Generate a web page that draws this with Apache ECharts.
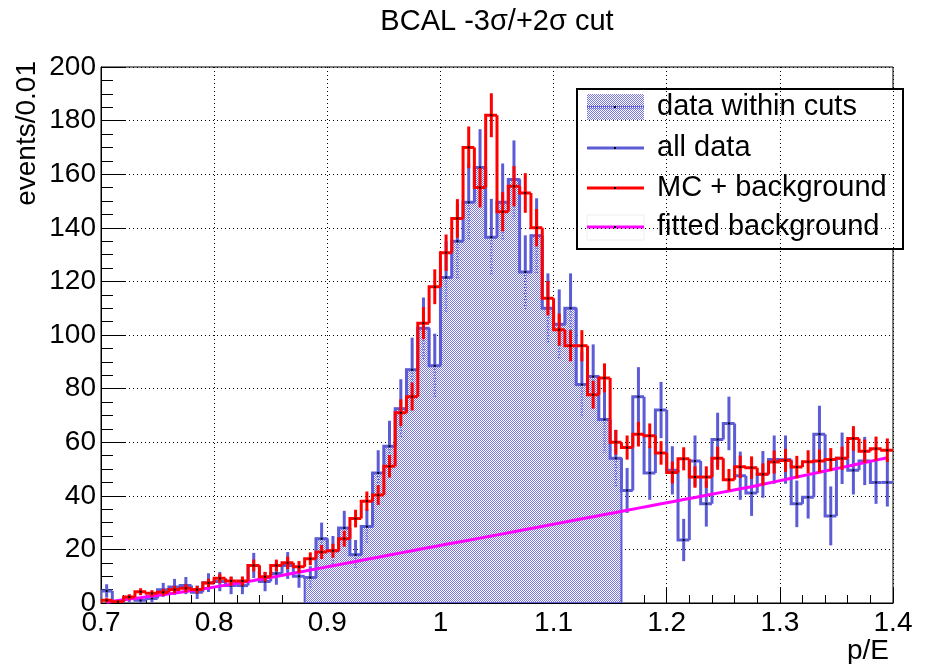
<!DOCTYPE html>
<html>
<head>
<meta charset="utf-8">
<script src="https://cdn.jsdelivr.net/npm/echarts@6/dist/echarts.min.js"></script>
<style>
  html, body { margin: 0; padding: 0; background: #fff; }
  #chart { width: 928px; height: 664px; }
</style>
</head>
<body>
<div id="chart"></div>
<script>
// Lower edges of the 0.01-wide p/E bins
const binLow = [
  0.70, 0.71, 0.72, 0.73, 0.74, 0.75, 0.76, 0.77, 0.78, 0.79,
  0.80, 0.81, 0.82, 0.83, 0.84, 0.85, 0.86, 0.87, 0.88, 0.89,
  0.90, 0.91, 0.92, 0.93, 0.94, 0.95, 0.96, 0.97, 0.98, 0.99,
  1.00, 1.01, 1.02, 1.03, 1.04, 1.05, 1.06, 1.07, 1.08, 1.09,
  1.10, 1.11, 1.12, 1.13, 1.14, 1.15, 1.16, 1.17, 1.18, 1.19,
  1.20, 1.21, 1.22, 1.23, 1.24, 1.25, 1.26, 1.27, 1.28, 1.29,
  1.30, 1.31, 1.32, 1.33, 1.34, 1.35, 1.36, 1.37, 1.38, 1.39
];
const BIN_WIDTH = 0.01;

// Data (all events)
const allData = [
  4.5, 0, 1.7, 1, 1.7, 4.9, 6, 6.5, 4, 7.6,
  8, 6.5, 6.5, 14, 8, 11, 14, 10, 9.5, 24,
  19.5, 28, 18, 28.5, 48.5, 58.5, 72.5, 87, 102.5, 88.5,
  121.5, 135, 149.5, 162.5, 136.5, 149.5, 158, 123.5, 137, 110,
  104, 110, 81.5, 84.5, 68.5, 54, 42, 77, 48.5, 72,
  49.5, 23.5, 53, 37, 61, 67, 47.5, 41, 48, 53.5,
  53.5, 37, 39.5, 63, 32.5, 54, 49.5, 53, 45, 45
];
const allDataErr = [
  2.5, 0, 1.5, 1.2, 1.5, 2.6, 3, 3.2, 2.5, 3.5,
  3.6, 3.2, 3.2, 4.7, 3.6, 4.2, 5, 4.3, 4.2, 6,
  5.5, 6.4, 5.5, 6.5, 8.5, 9.5, 11, 12, 11.5, 12,
  13.5, 14, 14.5, 14.3, 14.3, 14.5, 14.6, 13.7, 14, 13,
  13, 13, 12.4, 12, 12.5, 10.6, 8.4, 11, 10, 10.5,
  9, 7.9, 9.5, 8.5, 10, 10, 9, 8.5, 8.7, 9,
  9, 8.7, 8, 10.6, 11, 9.6, 9, 9, 8, 9
];

// Signal MC plus background
const mcBkg = [
  1, 0.5, 2.2, 4.2, 3.6, 4, 5, 5.5, 5, 7.5,
  9.2, 8.2, 8.2, 14, 9.8, 14, 15, 13.5, 16.5, 19,
  19.5, 24, 31.5, 38, 40.3, 51, 71, 77, 104.4, 118,
  130.7, 143.5, 170, 155, 182, 146, 155.5, 153, 140, 113.7,
  102, 96, 96, 77.7, 84, 60, 58, 63, 62.4, 56,
  48.7, 53.8, 47, 47, 54, 46, 50.8, 50.5, 48, 52.6,
  53.2, 50.7, 52.7, 53, 53.5, 54, 61.4, 56.6, 57.6, 57
];
const mcBkgErr = [
  0.8, 0.5, 1, 1.3, 1.2, 1.3, 1.4, 1.5, 1.4, 1.6,
  1.8, 1.7, 1.7, 2.2, 1.8, 2.2, 2.3, 2.2, 2.4, 2.6,
  2.6, 3, 3.3, 3.6, 3.7, 4.2, 5, 5.2, 6, 6.5,
  6.8, 7.2, 7.8, 7.4, 8.2, 7.3, 7.5, 7.4, 7, 6.4,
  6, 5.8, 5.8, 5.2, 5.4, 4.6, 4.5, 4.6, 4.6, 4.4,
  4.1, 4.3, 4, 4, 4.3, 4, 4.2, 4.2, 4.1, 4.3,
  4.3, 4.2, 4.3, 4.3, 4.3, 4.3, 4.6, 4.4, 4.5, 4.4
];

// Fitted background, per bin
const fittedBkg = [
  0.3, 0.9, 1.5, 2.0, 2.6, 3.1, 3.7, 4.3, 4.9, 5.6,
  6.3, 7.0, 7.7, 8.4, 9.2, 9.9, 10.7, 11.5, 12.3, 13.1,
  13.9, 14.7, 15.5, 16.3, 17.1, 17.9, 18.7, 19.5, 20.3, 21.1,
  21.9, 22.7, 23.4, 24.2, 25.0, 25.8, 26.6, 27.4, 28.2, 29.0,
  29.8, 30.6, 31.4, 32.2, 33.0, 33.8, 34.6, 35.4, 36.2, 37.0,
  37.8, 38.6, 39.4, 40.2, 41.0, 41.8, 42.6, 43.4, 44.3, 45.2,
  46.1, 47.0, 47.9, 48.8, 49.7, 50.6, 51.5, 52.4, 53.3, 54.2
];

// p/E window of the cut
const cutLow = 0.88;
const cutHigh = 1.16;

const BLUE = '#5c5cd6';
const RED = '#ff0000';
const MAGENTA = '#ff00ff';
const FONT = '"Liberation Sans", Arial, Helvetica, sans-serif';
const LABEL_SIZE = 28;
const LEGEND_SIZE = 29;
const TITLE_SIZE = 29;

function inCut(x) {
  return x >= cutLow - 1e-9 && x + BIN_WIDTH <= cutHigh + 1e-9;
}

// Fine dotted fill used for the selected region
function makeHatch() {
  const c = document.createElement('canvas');
  c.width = 2; c.height = 2;
  const g = c.getContext('2d');
  g.fillStyle = '#ffffff';
  g.fillRect(0, 0, 2, 2);
  g.fillStyle = '#7676e2';
  g.fillRect(0, 0, 1, 1);
  g.fillRect(1, 1, 1, 1);
  return c;
}
const hatch = { image: makeHatch(), repeat: 'repeat' };

// Step histogram with vertical error bars and a centre marker
function histSeries(name, values, errors, color, z, dashInCut) {
  return {
    type: 'custom',
    name: name,
    z: z,
    clip: true,
    data: binLow.map((x, i) => [x, values[i], errors[i], i]),
    renderItem: function (params, api) {
      const i = api.value(3);
      const x0 = api.value(0);
      const v = api.value(1);
      const e = api.value(2);
      const x1 = x0 + BIN_WIDTH;
      const xc = x0 + BIN_WIDTH / 2;
      const prev = i === 0 ? 0 : values[i - 1];
      const a = api.coord([x0, prev]);
      const b = api.coord([x0, v]);
      const c = api.coord([x1, v]);
      const children = [{
        type: 'polyline',
        shape: { points: [a, b, c] },
        style: { stroke: color, lineWidth: 3, fill: null }
      }];
      if (e > 0) {
        const top = api.coord([xc, v + e]);
        const mid = api.coord([xc, v]);
        const bot = api.coord([xc, Math.max(v - e, 0)]);
        const inside = dashInCut && inCut(x0);
        children.push({
          type: 'line',
          shape: { x1: top[0], y1: top[1], x2: mid[0], y2: mid[1] },
          style: { stroke: color, lineWidth: 3 }
        });
        children.push({
          type: 'line',
          shape: { x1: mid[0], y1: mid[1], x2: bot[0], y2: bot[1] },
          style: { stroke: color, lineWidth: inside ? 2.5 : 3, lineDash: inside ? [1, 2] : null }
        });
        children.push({
          type: 'rect',
          shape: { x: mid[0] - 1, y: mid[1] - 1, width: 2, height: 2 },
          style: { fill: '#000' }
        });
      }
      return { type: 'group', children: children };
    }
  };
}

// Filled area of the data inside the cut window
const cutSeries = {
  type: 'custom',
  name: 'data within cuts',
  z: 1,
  clip: true,
  data: [[cutLow, 0]],
  renderItem: function (params, api) {
    const pts = [api.coord([cutLow, 0])];
    binLow.forEach((x, i) => {
      if (inCut(x)) {
        pts.push(api.coord([x, allData[i]]));
        pts.push(api.coord([x + BIN_WIDTH, allData[i]]));
      }
    });
    pts.push(api.coord([cutHigh, 0]));
    return {
      type: 'polygon',
      shape: { points: pts },
      style: { fill: hatch, stroke: BLUE, lineWidth: 2 }
    };
  }
};

const bkgSeries = {
  type: 'line',
  name: 'fitted background',
  z: 3,
  showSymbol: false,
  symbol: 'none',
  data: binLow.map((x, i) => [x + BIN_WIDTH / 2, fittedBkg[i]]),
  lineStyle: { color: MAGENTA, width: 3 }
};

// Legend box
const LX = 577, LY = 89, LW = 326, LH = 160;
const rowY = [107, 148, 188, 227];
const symL = 587, symR = 644, symC = 615, textX = 657;
function legendText(t, y) {
  return {
    type: 'text', x: textX, y: y,
    style: { text: t, font: LEGEND_SIZE + 'px ' + FONT, fill: '#000', textAlign: 'left', textVerticalAlign: 'middle' }
  };
}
function dot(y) {
  return { type: 'rect', shape: { x: symC - 1, y: y - 1, width: 2, height: 2 }, style: { fill: '#000' } };
}
const legend = {
  type: 'group',
  z: 100,
  children: [
    { type: 'rect', shape: { x: LX, y: LY, width: LW, height: LH }, style: { fill: '#fff', stroke: '#000', lineWidth: 2 } },
    { type: 'rect', shape: { x: symL, y: rowY[0] - 13, width: symR - symL, height: 26 }, style: { fill: hatch, stroke: null } },
    { type: 'line', shape: { x1: symL, y1: rowY[0], x2: symR, y2: rowY[0] }, style: { stroke: BLUE, lineWidth: 3, lineDash: [1, 1] } },
    dot(rowY[0]),
    legendText('data within cuts', rowY[0]),
    { type: 'line', shape: { x1: symL, y1: rowY[1], x2: symR, y2: rowY[1] }, style: { stroke: BLUE, lineWidth: 3 } },
    dot(rowY[1]),
    legendText('all data', rowY[1]),
    { type: 'line', shape: { x1: symL, y1: rowY[2], x2: symR, y2: rowY[2] }, style: { stroke: RED, lineWidth: 3 } },
    dot(rowY[2]),
    legendText('MC + background', rowY[2]),
    { type: 'rect', shape: { x: symL, y: rowY[3] - 12, width: symR - symL, height: 25 }, style: { fill: null, stroke: '#eeeeee', lineWidth: 1 } },
    { type: 'line', shape: { x1: symL, y1: rowY[3], x2: symR, y2: rowY[3] }, style: { stroke: MAGENTA, lineWidth: 3 } },
    dot(rowY[3]),
    legendText('fitted background', rowY[3])
  ]
};

const chart = echarts.init(document.getElementById('chart'), null, { renderer: 'canvas' });
chart.setOption({
  animation: false,
  backgroundColor: '#fff',
  grid: {
    left: 101, right: 35, top: 67, bottom: 61,
    show: true, borderColor: '#000', borderWidth: 1, backgroundColor: 'transparent'
  },
  xAxis: {
    type: 'value',
    min: 0.7, max: 1.4, interval: 0.1,
    axisLine: { show: true, onZero: false, lineStyle: { color: '#000', width: 1 } },
    axisTick: { show: true, inside: true, length: 16, lineStyle: { color: '#000', width: 1 } },
    minorTick: { show: true, splitNumber: 5, length: 8, lineStyle: { color: '#000', width: 1 } },
    axisLabel: { show: true, margin: 6, color: '#000', fontSize: LABEL_SIZE, fontFamily: FONT, showMinLabel: true, showMaxLabel: true, hideOverlap: false },
    splitLine: { show: true, lineStyle: { color: '#000', width: 1, type: [1, 3] } }
  },
  yAxis: {
    type: 'value',
    min: 0, max: 200, interval: 20,
    axisLine: { show: true, lineStyle: { color: '#000', width: 1 } },
    axisTick: { show: true, inside: true, length: 24, lineStyle: { color: '#000', width: 1 } },
    minorTick: { show: true, splitNumber: 4, length: 12, lineStyle: { color: '#000', width: 1 } },
    axisLabel: { show: true, margin: 5, color: '#000', fontSize: LABEL_SIZE, fontFamily: FONT, showMinLabel: true, showMaxLabel: true, hideOverlap: false },
    splitLine: { show: true, lineStyle: { color: '#000', width: 1, type: [1, 3] } }
  },
  series: [
    cutSeries,
    histSeries('all data', allData, allDataErr, BLUE, 2, true),
    bkgSeries,
    histSeries('MC + background', mcBkg, mcBkgErr, RED, 4, false)
  ],
  graphic: [
    {
      type: 'text', x: 497, y: 22, z: 100,
      style: { text: 'BCAL -3σ/+2σ cut', font: TITLE_SIZE + 'px ' + FONT, fill: '#000', textAlign: 'center', textVerticalAlign: 'middle' }
    },
    {
      type: 'text', x: 27, y: 61, rotation: Math.PI / 2, z: 100,
      style: { text: 'events/0.01', font: LABEL_SIZE + 'px ' + FONT, fill: '#000', textAlign: 'right', textVerticalAlign: 'middle' }
    },
    {
      type: 'text', x: 889, y: 651, z: 100,
      style: { text: 'p/E', font: LABEL_SIZE + 'px ' + FONT, fill: '#000', textAlign: 'right', textVerticalAlign: 'middle' }
    },
    legend
  ]
});
</script>
</body>
</html>
